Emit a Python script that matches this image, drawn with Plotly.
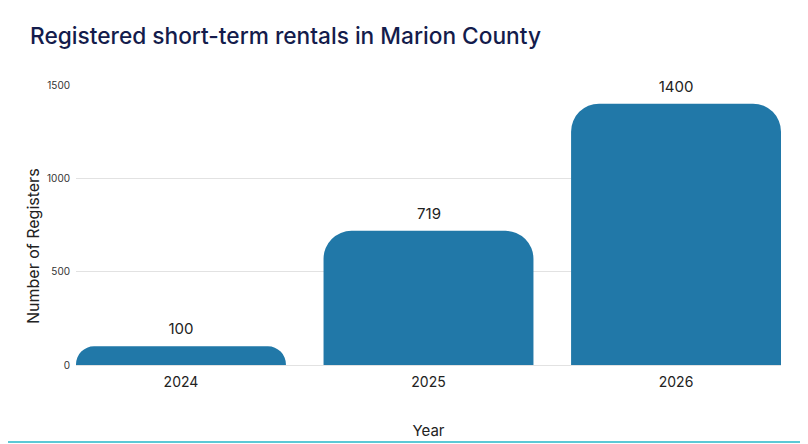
import plotly.graph_objects as go

# registered short-term rentals per year
years = ['2024', '2025', '2026']
registers = [100, 719, 1400]
y_ticks = [0, 500, 1000, 1500]

bar_color = '#2178a8'
font = 'Inter'

# the page has an 8px body margin, so everything is placed 8px up/left
W, H = 808, 444
L, T = 68, 77
R = W - (781 - 8)
B = H - (365 - 8)
plot_w = W - L - R
plot_h = H - T - B

fig = go.Figure()
fig.add_trace(go.Bar(
    x=years,
    y=registers,
    marker=dict(color=bar_color, cornerradius=28, line=dict(width=0)),
    hoverinfo='x+y',
))

# value labels with white box so they cut the grid lines
for i, val in enumerate(registers):
    fig.add_annotation(
        x=i, y=val, text=str(val), showarrow=False,
        yanchor='bottom', yshift=4,
        font=dict(family=font, size=15, color='#222222'),
        bgcolor='white', borderpad=3, width=50,
    )

# y axis title placed by hand (sits a bit below the middle)
fig.add_annotation(
    xref='paper', yref='paper',
    x=-(L - 25) / plot_w, y=1 - (246 - 8 - T) / plot_h,
    text='Number of Registers', textangle=-90, showarrow=False,
    xanchor='center', yanchor='middle',
    font=dict(family=font, size=16, color='#222222'),
)

bar_w = 0.848
line_y = -((442 - 8) - (H - B)) / plot_h
fig.update_layout(
    width=W, height=H,
    margin=dict(l=L, r=R, t=T, b=B),
    plot_bgcolor='white',
    paper_bgcolor='white',
    bargap=1 - bar_w,
    showlegend=False,
    title=dict(
        text='Registered short-term rentals in Marion County',
        x=22 / W, xanchor='left', y=1 - 28 / H, yanchor='middle',
        font=dict(family=font, size=22.7, weight=500, color='#141c4c'),
    ),
    xaxis=dict(
        type='category',
        range=[-bar_w / 2, 2 + bar_w / 2],
        title=dict(text='Year', font=dict(family=font, size=15, color='#222222'),
                   standoff=36),
        tickfont=dict(family=font, size=14, color='#222222'),
        ticklabelstandoff=7,
        showgrid=False, showline=False, ticks='',
    ),
    yaxis=dict(
        range=[0, 1500],
        tickvals=y_ticks,
        tickfont=dict(family=font, size=10, color='#333333'),
        ticklabelstandoff=5,
        gridcolor='#e2e2e2', gridwidth=1,
        zeroline=True, zerolinecolor='#e2e2e2', zerolinewidth=1,
        showline=False, ticks='',
    ),
    shapes=[dict(
        type='line', xref='paper', yref='paper',
        x0=-L / plot_w, x1=1 + R / plot_w,
        y0=line_y, y1=line_y,
        line=dict(color='#5cc9d6', width=2),
    )],
)

fig.write_html('out.html')
